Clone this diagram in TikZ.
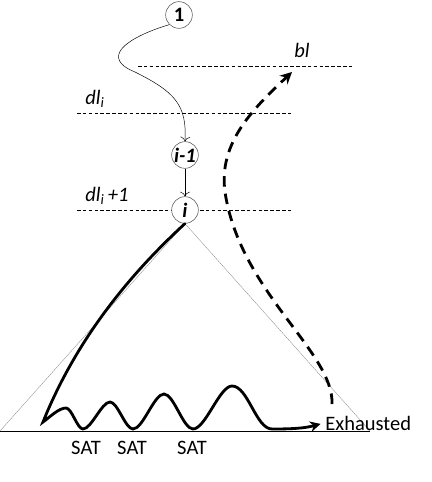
\documentclass[tikz,border=0pt]{standalone}
\usepackage{fontspec}
\setmainfont{Carlito}
\usepackage{tikz}
\usetikzlibrary{arrows.meta}
\begin{document}
\begin{tikzpicture}[x=0.03cm,y=0.03cm,>=Stealth,
    every node/.style={font=\fontsize{17.5}{20}\selectfont},
    state/.style={circle,draw=black!75,thin,minimum size=0.8cm,inner sep=0pt,fill=white},
    level/.style={densely dashed,thin},
    side/.style={draw=black!55,very thin},
    search/.style={line width=2.4pt,line cap=round},
    backjump/.style={line width=2.4pt,dash pattern=on 9pt off 6pt},
    wave/.style={out=0,in=180,looseness=0.55}]
  \useasboundingbox (0,0) rectangle (432,482);
  % decision levels
  \draw[level] (138,416) -- (353,416);
  \draw[level] (77,369) -- (293,369);
  \draw[level] (77,272) -- (293,272);
  \node (lbl) at (302,432) {\itshape bl};
  \node (ldl) at (95,383) {\itshape dl\textsubscript{i}};
  \node (ldlp) at (107,286) {\itshape dl\textsubscript{i}\,+1};
  % search tree
  \coordinate (tl) at (0,51);
  \coordinate (tr) at (370,51);
  \node[state] (n1) at (179,467) {\bfseries 1};
  \node[state] (nim) at (185,327) {\bfseries\itshape i-1};
  \node[state] (ni) at (185,272) {\bfseries\itshape i};
  \draw[side] (ni.south) -- (tl);
  \draw[side] (ni.south) -- (tr);
  \draw[semithick] (tl) -- (tr);
  \draw[-{To[length=4pt]},thin] (n1.south west) .. controls (125,444) and (100,424) .. (135,410)
    .. controls (175,390) and (187,377) .. (nim.north);
  \draw[-{To[length=4pt]},thin] (nim) -- (ni);
  % labels at the bottom
  \node (sat1) at (86,34) {SAT};
  \node (sat2) at (132,34) {SAT};
  \node (sat3) at (192,34) {SAT};
  \node[anchor=west,inner sep=1pt] (exh) at (324,59) {Exhausted};
  % path of the search
  \draw[search,-{Stealth[length=9pt,width=9pt]},shorten >=3pt] (ni.south)
    .. controls (140,217) and (80,152) .. (43,60)
    to[out=35,in=180,looseness=0.7] (66,74) to[wave] (83,53)
    to[wave] (110,80) to[wave] (133,53)
    to[wave] (164,88) to[wave] (193,53)
    to[wave] (232,96) to[out=0,in=180,looseness=0.7] (272,53)
    to[out=0,in=195] (exh.west);
  % jump back
  \coordinate (jfrom) at (332,78);
  \coordinate (jto) at (292,410);
  \draw[backjump,-{Stealth[length=10pt,width=10pt]}] (jfrom)
    .. controls (334,130) and (240,190) .. (225,290)
    .. controls (218,340) and (255,375) .. (jto);
\end{tikzpicture}
\end{document}
